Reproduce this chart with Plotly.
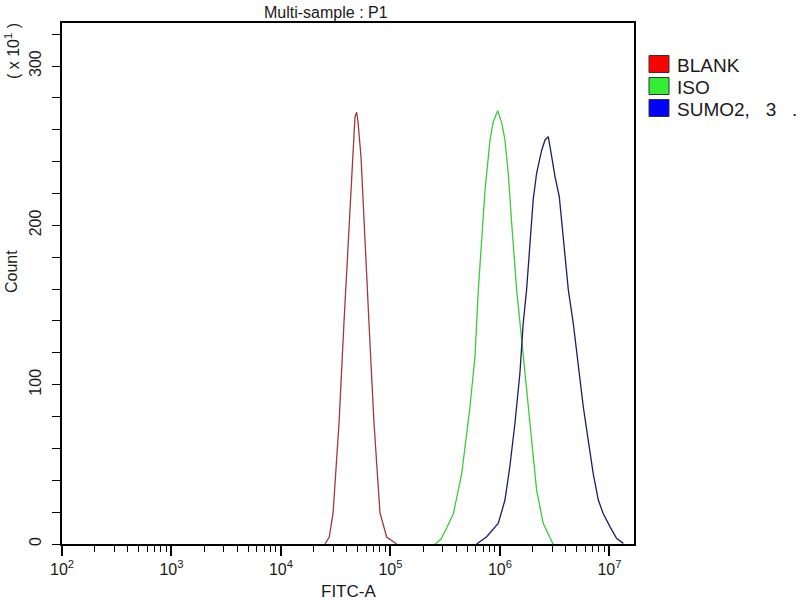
import plotly.graph_objects as go

# ---- data (FITC-A intensity, count in units of x10) ----
blank_x = [2.52e4, 2.76e4, 2.99e4, 3.39e4, 3.76e4, 4.18e4, 4.52e4, 4.74e4, 4.91e4,
           5.05e4, 5.38e4, 5.73e4, 6.36e4, 7.07e4, 8.02e4, 9.23e4, 1.14e5]
blank_y = [0, 4.4, 19.5, 76, 139, 201.5, 243, 268, 271,
           265, 243, 201.5, 139, 76, 19.5, 4.4, 0]

iso_x = [2.55e5, 2.89e5, 3.26e5, 3.75e5, 4.47e5, 5.32e5, 5.91e5, 6.34e5, 6.81e5,
         7.30e5, 8.11e5, 8.69e5, 9.53e5, 1.04e6, 1.11e6, 1.19e6, 1.28e6, 1.42e6,
         1.58e6, 1.75e6, 1.95e6, 2.16e6, 2.48e6, 3.05e6]
iso_y = [0, 3, 10, 19, 44, 86, 117.6, 159.5, 191,
         222, 253.6, 265, 272, 264, 253.6, 232.7, 201, 159.5,
         128, 96.7, 65, 34, 13, 0]

sumo_x = [6.12e5, 7.56e5, 9.66e5, 1.11e6, 1.23e6, 1.37e6, 1.52e6, 1.63e6, 1.75e6,
          1.88e6, 2.01e6, 2.16e6, 2.29e6, 2.40e6, 2.58e6, 2.76e6, 2.97e6, 3.18e6,
          3.48e6, 3.78e6, 4.21e6, 4.67e6, 5.19e6, 5.77e6, 6.40e6, 7.11e6, 7.91e6,
          8.78e6, 1.01e7, 1.16e7, 1.34e7]
sumo_y = [0, 4.6, 13, 27.6, 48.5, 75.8, 107, 138.5, 159.5,
          191, 216, 232.7, 240, 247, 253.6, 255.7, 243, 230.6,
          218, 191, 159.5, 138.5, 111, 86, 65, 44, 27.6,
          19, 10.9, 3.6, 0.4]

series_names = ["BLANK", "ISO", "SUMO2,\u00a0\u00a0\u00a03\u00a0\u00a0\u00a0."]
line_colors = ["#A03A3A", "#3CCB3C", "#1C1C6A"]
swatch_colors = ["#FF0000", "#33EE33", "#0000FF"]

x_major = [1e2, 1e3, 1e4, 1e5, 1e6, 1e7]
x_major_text = ["10<sup>2</sup>", "10<sup>3</sup>", "10<sup>4</sup>",
                "10<sup>5</sup>", "10<sup>6</sup>", "10<sup>7</sup>"]
x_minor = [m * d for d in [1e2, 1e3, 1e4, 1e5, 1e6, 1e7] for m in range(2, 10)]
y_major = [0, 100, 200, 300]

# ---- layout (page pixel coordinates; body margin removed below) ----
L, R, T, B = 62, 634, 23, 544
W, H = 800, 600

def px(x):
    return (x - L) / (R - L)

def py(y):
    return (B - y) / (B - T)

fig = go.Figure()
for xs, ys, c in [(blank_x, blank_y, line_colors[0]),
                  (iso_x, iso_y, line_colors[1]),
                  (sumo_x, sumo_y, line_colors[2])]:
    fig.add_trace(go.Scatter(x=xs, y=ys, mode="lines",
                             line=dict(color=c, width=1.3),
                             showlegend=False, hoverinfo="skip"))

font = "Liberation Sans, Arial, sans-serif"
txt = "#1a1a1a"

fig.update_layout(
    width=W, height=H,
    margin=dict(l=L, r=W - R, t=T, b=H - B),
    paper_bgcolor="white", plot_bgcolor="white",
    font=dict(family=font, color=txt, size=14),
    xaxis=dict(type="log", range=[2, 7.224], showgrid=False, zeroline=False,
               showline=True, linecolor="black", linewidth=1.6, mirror=True,
               tickmode="array", tickvals=x_major, ticktext=x_major_text,
               ticks="outside", ticklen=10, tickwidth=2, tickcolor="black",
               tickfont=dict(size=16, family=font, color=txt),
               minor=dict(tickmode="array", tickvals=x_minor, ticks="outside",
                          ticklen=6, tickwidth=1.2, tickcolor="black")),
    yaxis=dict(range=[0, 327], showgrid=False, zeroline=False,
               showline=True, linecolor="black", linewidth=1.6, mirror=True,
               tickmode="array", tickvals=y_major,
               ticks="outside", ticklen=8, tickwidth=1.4, tickcolor="black",
               tickangle=-90, ticklabelstandoff=5,
               tickfont=dict(size=16, family=font, color=txt),
               minor=dict(dtick=20, ticks="outside", ticklen=8,
                          tickwidth=1.4, tickcolor="black")),
)

annotations = [
    dict(text="Multi-sample : P1", x=px(326), y=py(12), showarrow=False,
         font=dict(size=16, family=font, color=txt)),
    dict(text="FITC-A", x=px(348), y=py(591), showarrow=False,
         font=dict(size=17, family=font, color=txt)),
    dict(text="Count", x=px(11), y=py(272), showarrow=False, textangle=-90,
         font=dict(size=16, family=font, color=txt)),
    dict(text="(\u00a0x\u00a010<sup>1</sup>\u00a0)", x=px(12), y=py(51), showarrow=False,
         textangle=-90, font=dict(size=16, family=font, color=txt)),
]
shapes = []
legend_y = [64, 86, 108]
for name, c, yy in zip(series_names, swatch_colors, legend_y):
    shapes.append(dict(type="rect", xref="paper", yref="paper",
                       x0=px(649), x1=px(669), y0=py(yy + 8.5), y1=py(yy - 8.5),
                       fillcolor=c, line=dict(color="#333333", width=1)))
    annotations.append(dict(text=name, x=px(675), y=py(yy + 1.5), xanchor="left",
                            showarrow=False,
                            font=dict(size=19, family=font, color=txt)))
for a in annotations:
    a["xref"] = "paper"
    a["yref"] = "paper"
    a.setdefault("xanchor", "center")
    a["yanchor"] = "middle"
fig.update_layout(annotations=annotations, shapes=shapes)

fig.write_html("out.html",
               config={"displayModeBar": False},
               post_script="document.body.style.margin='0';"
                           "document.body.style.overflow='hidden';")
